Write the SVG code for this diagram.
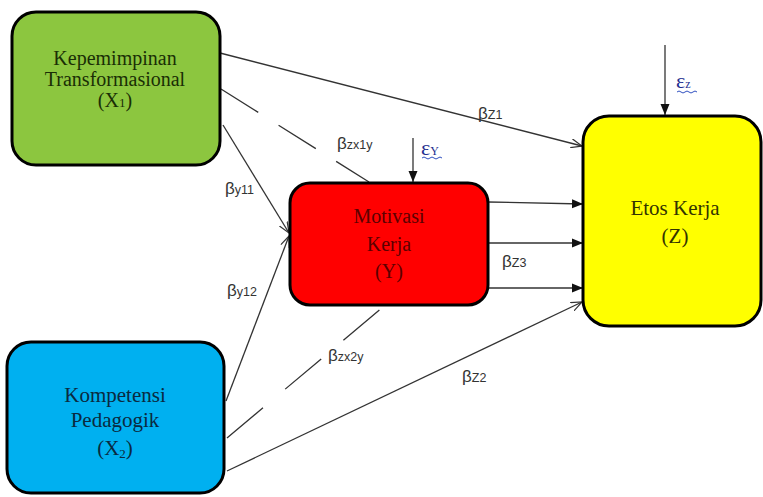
<svg xmlns="http://www.w3.org/2000/svg" width="763" height="497" viewBox="0 0 763 497">
<style>
.box{stroke:#000;stroke-width:3}
.bt{font-family:"Liberation Serif","Times New Roman",serif;text-anchor:middle}
.ln{stroke:#333;stroke-width:1.3;fill:none}
.dash1{stroke-dasharray:44 24}
.dash2{stroke-dasharray:47 29}
.lbl{font-family:"Liberation Sans",Arial,sans-serif;fill:#333;font-size:17px}
.sub{font-size:12.5px}
.eps{font-family:"Liberation Serif","Times New Roman",serif;fill:#1f2f8f;font-size:22px}
.wav{stroke:#3050c0;stroke-width:1;fill:none}
</style>
<defs>
<marker id="open" markerUnits="userSpaceOnUse" markerWidth="12" markerHeight="10" refX="11" refY="5" orient="auto">
<path d="M0,0.5 L11,5 L0,9.5" fill="none" stroke="#333" stroke-width="1.2"/>
</marker>
<marker id="fill" markerUnits="userSpaceOnUse" markerWidth="11" markerHeight="10" refX="11" refY="5" orient="auto">
<path d="M0,0.5 L11,5 L0,9.5 z" fill="#111"/>
</marker>
</defs>
<g id="connectors">
<line class="ln" x1="220" y1="53" x2="582" y2="146" marker-end="url(#open)"/>
<line class="ln dash1" x1="221" y1="89" x2="369" y2="182"/>
<line class="ln" x1="223" y1="125" x2="289" y2="233" marker-end="url(#open)"/>
<line class="ln" x1="226" y1="401" x2="289" y2="236" marker-end="url(#open)"/>
<line class="ln dash2" x1="227" y1="438" x2="383" y2="307"/>
<line class="ln" x1="227" y1="471" x2="582" y2="302" marker-end="url(#open)"/>
<line class="ln" x1="488" y1="202" x2="583" y2="204" marker-end="url(#fill)"/>
<line class="ln" x1="488" y1="243" x2="583" y2="243" marker-end="url(#fill)"/>
<line class="ln" x1="488" y1="288" x2="583" y2="288" marker-end="url(#fill)"/>
<line class="ln" x1="413" y1="138" x2="413" y2="182" marker-end="url(#fill)"/>
<line class="ln" x1="665" y1="45" x2="665" y2="115" marker-end="url(#fill)"/>
</g>
<g id="labels">
<text class="lbl" x="478" y="119">β<tspan class="sub">Z1</tspan></text>
<text class="lbl" x="337" y="149">β<tspan class="sub">zx1y</tspan></text>
<text class="lbl" x="225" y="194">β<tspan class="sub">y11</tspan></text>
<text class="lbl" x="227" y="296">β<tspan class="sub">y12</tspan></text>
<text class="lbl" x="502" y="267">β<tspan class="sub">Z3</tspan></text>
<text class="lbl" x="328" y="361">β<tspan class="sub">zx2y</tspan></text>
<text class="lbl" x="462" y="382">β<tspan class="sub">Z2</tspan></text>
<text class="eps" x="421" y="155">ε<tspan font-size="12">Y</tspan></text>
<path class="wav" d="M422,158 q2,-2 4,0 t4,0 t4,0 t4,0 t4,0"/>
<text class="eps" x="676" y="88">ε<tspan font-size="12">z</tspan></text>
<path class="wav" d="M677,92 q2,-2 4,0 t4,0 t4,0 t4,0 t4,0"/>
</g>
<g id="X1">
<rect class="box" x="12" y="12" width="208" height="153" rx="24" fill="#8cc63f"/>
<text class="bt" font-size="20" fill="#1a2e05" x="115" y="65">Kepemimpinan</text>
<text class="bt" font-size="20" fill="#1a2e05" x="115" y="86">Transformasional</text>
<text class="bt" font-size="20" fill="#1a2e05" x="115" y="107">(X<tspan font-size="13">1</tspan>)</text>
</g>
<g id="Y">
<rect class="box" x="290" y="183" width="198" height="122" rx="20" fill="#ff0000"/>
<text class="bt" font-size="20" fill="#5a0000" x="389" y="223">Motivasi</text>
<text class="bt" font-size="20" fill="#5a0000" x="389" y="251">Kerja</text>
<text class="bt" font-size="20" fill="#5a0000" x="389" y="278">(Y)</text>
</g>
<g id="Z">
<rect class="box" x="583" y="116" width="178" height="210" rx="26" fill="#ffff00"/>
<text class="bt" font-size="21" fill="#333300" x="675" y="215">Etos Kerja</text>
<text class="bt" font-size="21" fill="#333300" x="675" y="243">(Z)</text>
</g>
<g id="X2">
<rect class="box" x="7" y="342" width="217" height="151" rx="24" fill="#00b0f0"/>
<text class="bt" font-size="21" fill="#0a2a40" x="115" y="402">Kompetensi</text>
<text class="bt" font-size="21" fill="#0a2a40" x="115" y="427">Pedagogik</text>
<text class="bt" font-size="21" fill="#0a2a40" x="115" y="455">(X<tspan font-size="13" dy="3">2</tspan><tspan dy="-3">)</tspan></text>
</g>
</svg>
